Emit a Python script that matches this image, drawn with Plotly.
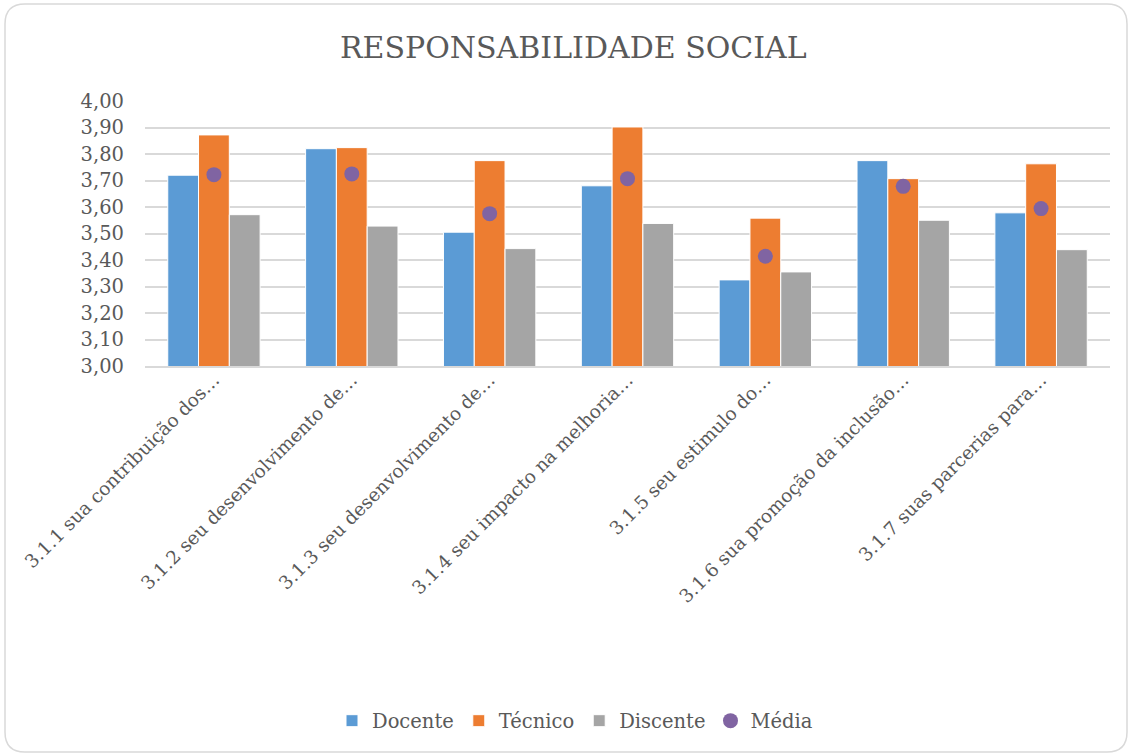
import plotly.graph_objects as go

categories = [
    "3.1.1 sua contribuição dos…",
    "3.1.2 seu desenvolvimento de…",
    "3.1.3 seu desenvolvimento de…",
    "3.1.4 seu impacto na melhoria…",
    "3.1.5 seu estimulo do…",
    "3.1.6 sua promoção da inclusão…",
    "3.1.7 suas parcerias para…",
]
docente = [3.72, 3.82, 3.505, 3.68, 3.325, 3.775, 3.578]
tecnico = [3.872, 3.824, 3.775, 3.902, 3.558, 3.707, 3.763]
discente = [3.571, 3.528, 3.443, 3.538, 3.355, 3.55, 3.439]
media = [3.722, 3.725, 3.575, 3.707, 3.414, 3.678, 3.594]
y_ticks = [3.0, 3.1, 3.2, 3.3, 3.4, 3.5, 3.6, 3.7, 3.8, 3.9, 4.0]
y_tick_labels = ["3,00", "3,10", "3,20", "3,30", "3,40", "3,50", "3,60", "3,70", "3,80", "3,90", "4,00"]

FONT = "DejaVu Serif"
TXT = "#595959"
W, H = 1132, 756
ML, MR, MT, MB = 145, 22, 101, 390
PW = W - ML - MR
PH = H - MT - MB

fig = go.Figure()
fig.add_trace(go.Bar(name="Docente", x=categories, y=docente,
                     marker=dict(color="#5B9BD5", line=dict(color="white", width=1))))
fig.add_trace(go.Bar(name="Técnico", x=categories, y=tecnico,
                     marker=dict(color="#ED7D31", line=dict(color="white", width=1))))
fig.add_trace(go.Bar(name="Discente", x=categories, y=discente,
                     marker=dict(color="#A5A5A5", line=dict(color="white", width=1))))
fig.add_trace(go.Scatter(name="Média", x=categories, y=media, mode="markers",
                         marker=dict(color="#8064A2", size=15)))

def px2paper(px, py):
    return (px - ML) / PW, (H - MB - py) / PH

def P(px, py):
    X, Y = px2paper(px, py)
    return f"{X:.5f},{Y:.5f}"

# rounded outer border
x0, y0, x1, y1, r = 5, 4, 1127, 752, 20
path = (f"M {P(x0+r, y0)} L {P(x1-r, y0)} Q {P(x1, y0)} {P(x1, y0+r)} "
        f"L {P(x1, y1-r)} Q {P(x1, y1)} {P(x1-r, y1)} "
        f"L {P(x0+r, y1)} Q {P(x0, y1)} {P(x0, y1-r)} "
        f"L {P(x0, y0+r)} Q {P(x0, y0)} {P(x0+r, y0)} Z")
fig.add_shape(type="path", path=path, xref="paper", yref="paper",
              line=dict(color="#D9D9D9", width=1.5), layer="below")

lx, ly = px2paper(575, 721)
tx, ty = px2paper(573, 47)

fig.update_layout(
    width=W, height=H,
    margin=dict(l=ML, r=MR, t=MT, b=MB, autoexpand=False),
    paper_bgcolor="white", plot_bgcolor="white",
    font=dict(family=FONT, color=TXT, size=18),
    barmode="group", bargap=0.33, bargroupgap=0,
    showlegend=True,
    legend=dict(orientation="h", x=lx, y=ly, xanchor="center", yanchor="middle",
                font=dict(size=19.5, color=TXT), itemwidth=30, traceorder="normal"),
    xaxis=dict(tickangle=-45, showgrid=False, showline=True, linecolor="#D9D9D9",
               linewidth=1.5, ticks="", automargin=False, ticklabelstandoff=-6,
               tickfont=dict(size=18.5, color=TXT)),
    yaxis=dict(range=[3.0, 4.0], tickvals=y_ticks, ticktext=y_tick_labels,
               showgrid=True, gridcolor="#D9D9D9", gridwidth=1.5, zeroline=False,
               showline=False, ticks="", ticklabelstandoff=20, automargin=False,
               tickfont=dict(size=19.5, color=TXT)),
    annotations=[dict(text="RESPONSABILIDADE SOCIAL", xref="paper", yref="paper",
                      x=tx, y=ty, xanchor="center", yanchor="middle", showarrow=False,
                      font=dict(size=30, color=TXT, family=FONT))],
)

fig.write_html("out.html", config={"displayModeBar": False},
               post_script="document.body.style.margin='0';document.body.style.padding='0';")
